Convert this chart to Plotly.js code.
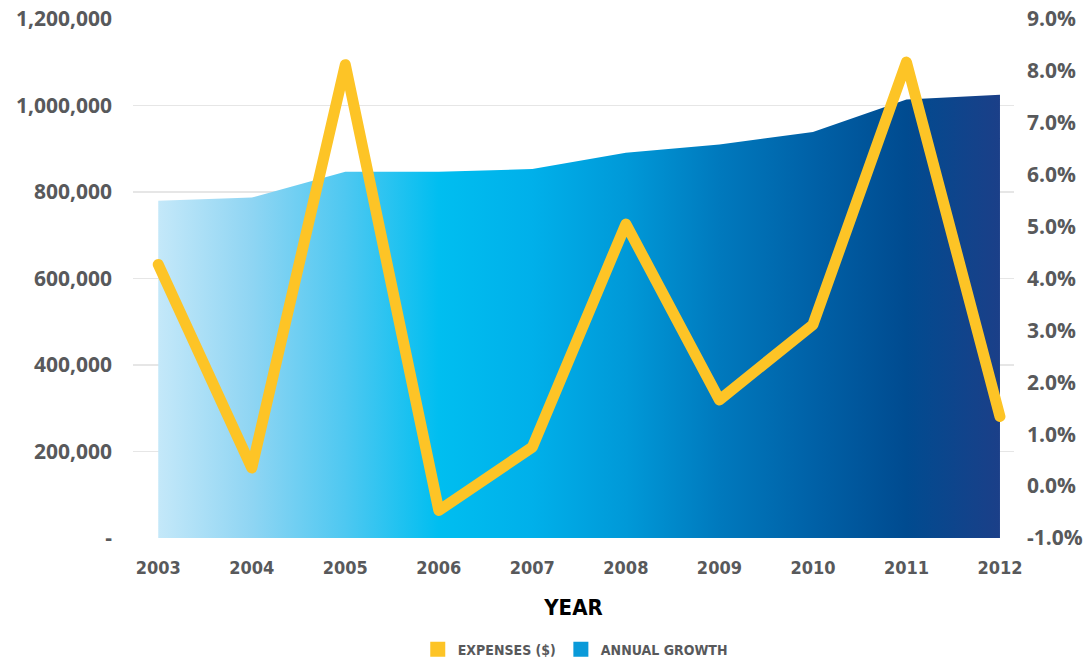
<!DOCTYPE html>
<html>
<head>
<meta charset="utf-8">
<script src="https://cdn.plot.ly/plotly-3.0.1.min.js"></script>
<style>
  html, body { margin: 0; padding: 0; background: #ffffff; }
  #chart { width: 1091px; height: 663px; }
  .scatterlayer .js-line { stroke-linejoin: round !important; stroke-linecap: round !important; }
</style>
</head>
<body>
<div id="chart"></div>
<script>
// ---- data ----
const years = [2003, 2004, 2005, 2006, 2007, 2008, 2009, 2010, 2011, 2012];
const yearLabels = ['2003', '2004', '2005', '2006', '2007', '2008', '2009', '2010', '2011', '2012'];
const annualGrowth = [780000, 787000, 847000, 847000, 853000, 891000, 910000, 939000, 1014000, 1025000];
const expensesPct = [4.27, 0.35, 8.12, -0.47, 0.75, 5.05, 1.66, 3.11, 8.17, 1.34];
const leftTickVals = [0, 200000, 400000, 600000, 800000, 1000000, 1200000];
const leftTickText = ['-', '200,000', '400,000', '600,000', '800,000', '1,000,000', '1,200,000'];
const rightTickVals = [-1, 0, 1, 2, 3, 4, 5, 6, 7, 8, 9];
const rightTickText = ['-1.0%', '0.0%', '1.0%', '2.0%', '3.0%', '4.0%', '5.0%', '6.0%', '7.0%', '8.0%', '9.0%'];
const seriesNames = ['EXPENSES ($)', 'ANNUAL GROWTH'];

// ---- styles ----
const gray = '#58595b';
const yellow = '#fdc426';
const narrow = '"DejaVu Sans Condensed", "Liberation Sans Narrow", "Open Sans", sans-serif';
const sans = '"Open Sans", "Noto Sans", sans-serif';

const gradientScale = [
  [0.000, '#c4e8f9'],
  [0.111, '#8fd5f3'],
  [0.222, '#4ec8f1'],
  [0.333, '#00bef0'],
  [0.444, '#00b0ea'],
  [0.556, '#0099d8'],
  [0.667, '#0079bd'],
  [0.778, '#0061a7'],
  [0.889, '#004b90'],
  [1.000, '#1b3f88']
];

const traces = [
  {
    x: years, y: annualGrowth, type: 'scatter', mode: 'lines',
    fill: 'tozeroy',
    fillgradient: { type: 'horizontal', colorscale: gradientScale, start: years[0], stop: years[years.length - 1] },
    line: { width: 0, color: '#0099d8' },
    yaxis: 'y', showlegend: false, hoverinfo: 'skip'
  },
  {
    x: years, y: expensesPct, type: 'scatter', mode: 'lines',
    line: { width: 11, color: yellow },
    yaxis: 'y2', showlegend: false, hoverinfo: 'skip'
  },
  // legend entries (square swatches)
  { x: [null], y: [null], type: 'scatter', mode: 'markers', name: seriesNames[0],
    marker: { color: yellow, symbol: 'square', size: 15 }, showlegend: true },
  { x: [null], y: [null], type: 'scatter', mode: 'markers', name: seriesNames[1],
    marker: { color: '#0a9ad9', symbol: 'square', size: 15 }, showlegend: true }
];

const layout = {
  width: 1091, height: 663,
  margin: { l: 133, r: 77, t: 19, b: 125, autoexpand: false },
  paper_bgcolor: '#ffffff', plot_bgcolor: '#ffffff',
  showlegend: true,
  legend: {
    orientation: 'h', x: 0.502, xanchor: 'center', y: -0.215, yanchor: 'middle',
    font: { family: narrow, size: 14, color: gray, weight: 600 },
    itemwidth: 30, traceorder: 'normal'
  },
  xaxis: {
    range: [2002.73, 2012.15],
    tickvals: years, ticktext: yearLabels,
    showgrid: false, zeroline: false, showline: false, ticks: '',
    tickfont: { family: narrow, size: 18, color: gray, weight: 700 },
    ticklabelstandoff: 17,
    automargin: false,
    title: { text: 'YEAR', font: { family: narrow, size: 22, color: '#000000', weight: 700 }, standoff: 22 },
    fixedrange: true
  },
  yaxis: {
    range: [0, 1200000],
    tickvals: leftTickVals, ticktext: leftTickText,
    showgrid: true, gridcolor: '#e6e6e6', gridwidth: 1.5,
    zeroline: false, showline: false, ticks: '',
    tickfont: { family: sans, size: 21, color: gray, weight: 700 },
    ticklabelstandoff: 20, automargin: false,
    fixedrange: true
  },
  yaxis2: {
    range: [-1, 9], overlaying: 'y', side: 'right',
    tickvals: rightTickVals, ticktext: rightTickText,
    showgrid: false, zeroline: false, showline: false, ticks: '',
    tickfont: { family: sans, size: 21, color: gray, weight: 700 },
    ticklabelstandoff: 12, automargin: false,
    fixedrange: true
  }
};

Plotly.newPlot('chart', traces, layout, { displayModeBar: false, staticPlot: true });
</script>
</body>
</html>
